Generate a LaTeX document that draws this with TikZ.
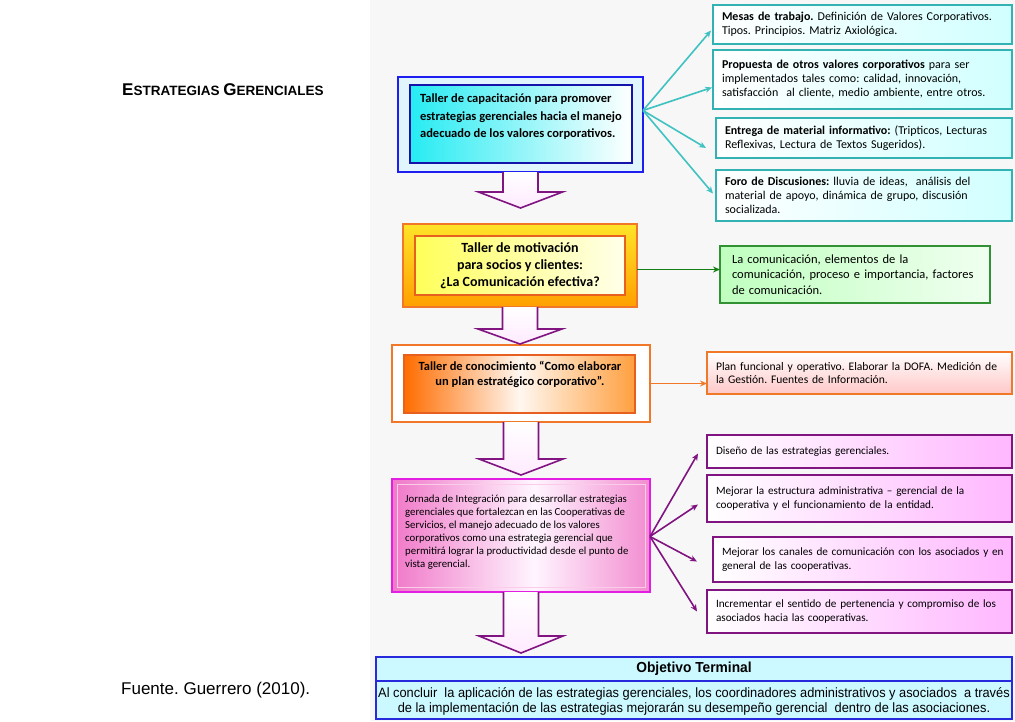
\documentclass[tikz,border=0pt]{standalone}
\usepackage{fontspec}
\setmainfont{Carlito}
\newfontfamily\arialf{Liberation Sans}
\newfontfamily\arialn{Liberation Sans}[FakeStretch=0.95]
\usetikzlibrary{arrows.meta,calc}
\frenchspacing
\definecolor{bgray}{RGB}{247,247,247}
\definecolor{tealc}{RGB}{64,194,194}
\definecolor{tealb}{RGB}{50,178,178}
\definecolor{blueo}{RGB}{30,30,240}
\definecolor{bluei}{RGB}{20,20,170}
\definecolor{cyanf}{RGB}{0,232,240}
\definecolor{oran}{RGB}{240,120,40}
\definecolor{oranr}{RGB}{232,96,32}
\definecolor{yel}{RGB}{255,228,40}
\definecolor{grn}{RGB}{20,128,20}
\definecolor{grnb}{RGB}{50,145,50}
\definecolor{mag}{RGB}{225,30,225}
\definecolor{purp}{RGB}{128,20,128}
\definecolor{pinkf}{RGB}{240,120,200}
\definecolor{objb}{RGB}{40,40,220}
\definecolor{objf}{RGB}{204,248,255}
\tikzset{
  corner/.style={anchor=north west, inner sep=0pt, outer sep=0pt},
  rbox/.style={anchor=north west, inner xsep=9pt, inner ysep=0pt, outer sep=0pt, align=left,
     font=\fontsize{12}{14}\selectfont},
  cybox/.style={rbox, draw=tealb, line width=1.6pt, left color=white, right color=cyan!18},
  grbox/.style={rbox, draw=grnb, line width=1.6pt, left color=green!25, right color=green!6},
  orbox/.style={rbox, draw=oran, line width=1.6pt, top color=white, bottom color=red!22},
  pubox/.style={rbox, draw=purp, line width=1.8pt, left color=white, right color=magenta!28,
     font=\fontsize{11.2}{14}\selectfont},
  barrowst/.style={draw=purp, line width=1.6pt, top color=white, bottom color=magenta!8, line join=miter},
  tarr/.style={draw=tealc, line width=1.6pt, -{Stealth[length=7pt,width=6pt]}},
  garr/.style={draw=grn, line width=1.6pt, -{Stealth[length=7pt,width=6pt]}},
  oarr/.style={draw=oran, line width=1.6pt, -{Stealth[length=7pt,width=6pt]}},
  parr/.style={draw=purp, line width=1.6pt, -{Stealth[length=7pt,width=6pt]}},
  btext/.style={inner sep=0pt, font=\bfseries\fontsize{12.5}{17.5}\selectfont},
  % three-stop horizontal gradient: #1 left, #2 middle, #3 right, #4 fraction of middle
  tri/.style n args={4}{path picture={
     \coordinate (ppnw) at (path picture bounding box.north west);
     \coordinate (ppse) at (path picture bounding box.south east);
     \coordinate (ppm) at ($(ppnw)!#4!(ppnw -| ppse)$);
     \shade[left color=#1, right color=#2] (ppnw) rectangle (ppm |- ppse);
     \shade[left color=#2, right color=#3] (ppm) rectangle (ppse);}}
}
\newcommand\blockarrow[3]{%
  \path[barrowst] ($(#1.south)+(-17.5,0)$) -- ($(#1.south)+(-17.5,#2)$) -- ($(#1.south)+(-42,#2)$)
    -- ($(#1.south)+(0,#3)$) -- ($(#1.south)+(42,#2)$) -- ($(#1.south)+(17.5,#2)$) -- ($(#1.south)+(17.5,0)$);}
\begin{document}
\begin{tikzpicture}[x=1pt,y=-1pt]
\useasboundingbox (0,0) rectangle (1015,721);
\fill[white] (0,0) rectangle (1015,721);
\fill[bgray] (370,0) rectangle (1015,721);

% title and source
\node[anchor=west, inner sep=0pt, font=\arialf\bfseries] (title) at (122,90)
  {\fontsize{17}{20}\selectfont E\fontsize{13.5}{16}\selectfont STRATEGIAS \fontsize{17}{20}\selectfont G\fontsize{13.5}{16}\selectfont ERENCIALES};
\node[anchor=west, inner sep=0pt, font=\arialf\fontsize{17}{20}\selectfont] (src) at (121,690) {Fuente. Guerrero (2010).};

% box 1
\node[corner, draw=blueo, line width=2pt, fill=cyan!12, minimum width=245pt, minimum height=95pt] (b1o) at (398,77) {};
\node[corner, draw=bluei, line width=2pt, left color=cyanf!85, right color=white, minimum width=222pt, minimum height=78pt] (b1i) at (410,85) {};
\node[btext, align=left] (t1) at (521,117) {Taller de capacitación para promover\\estrategias gerenciales hacia el manejo\\adecuado de los valores corporativos.};

% right cyan boxes
\node[cybox, minimum width=299pt, minimum height=39pt, text width=281pt] (r1) at (713,5)
  {\textbf{Mesas de trabajo.} Definición de Valores Corporativos.\\Tipos. Principios. Matriz Axiológica.};
\node[cybox, minimum width=299pt, minimum height=59pt, text width=281pt] (r2) at (713,50)
  {\textbf{Propuesta de otros valores corporativos} para ser\\implementados tales como: calidad, innovación,\\satisfacción\ \ al cliente, medio ambiente, entre otros.};
\node[cybox, minimum width=296pt, minimum height=40pt, text width=278pt] (r3) at (716,118)
  {\textbf{Entrega de material informativo:} (Tripticos, Lecturas\\Reflexivas, Lectura de Textos Sugeridos).};
\node[cybox, minimum width=296pt, minimum height=51pt, text width=278pt] (r4) at (716,170)
  {\textbf{Foro de Discusiones:} lluvia de ideas,\ \ análisis del\\material de apoyo, dinámica de grupo, discusión\\socializada.};
\coordinate (c1) at ($(b1o.east)+(0,-14)$);
\draw[tarr] (c1) -- ($(r1.west)+(-2,6)$);
\draw[tarr] (c1) -- ($(r2.west)+(-1,8)$);
\draw[tarr] (c1) -- ($(r3.west)+(-10,10)$);
\draw[tarr] (c1) -- ($(r4.west)+(-3,-2)$);

% box 2
\node[corner, draw=oran, line width=2pt, top color=yel, bottom color=orange!75!yellow, minimum width=234pt, minimum height=83pt] (b2o) at (403,224) {};
\node[corner, draw=oranr, line width=2pt, left color=yellow!65, right color=yellow!8, minimum width=210pt, minimum height=59pt] (b2i) at (415,236) {};
\node[btext, align=center, font=\bfseries\fontsize{14}{16.8}\selectfont] (t2) at (520,266) {Taller de motivación\\para socios y clientes:\\¿La Comunicación efectiva?};
\node[grbox, inner xsep=12pt, minimum width=270pt, minimum height=57pt, text width=246pt, font=\fontsize{12.5}{15.5}\selectfont] (g) at (720,246)
  {La comunicación, elementos de la\\comunicación, proceso e importancia, factores\\de comunicación.};
\coordinate (c2) at ($(b2o.east)+(0,4)$);
\draw[garr] (c2) -- (g.west |- c2);

% box 3
\node[corner, draw=oran, line width=2pt, fill=white, minimum width=258pt, minimum height=77pt] (b3o) at (392,345) {};
\node[corner, draw=oranr, line width=2pt, tri={orange!85!red}{orange!6}{orange!75}{0.5}, minimum width=231pt, minimum height=58pt] (b3i) at (404,355) {};
\node[btext, align=center, font=\bfseries\fontsize{12.5}{15}\selectfont] (t3) at (520,374) {Taller de conocimiento “Como elaborar\\un plan estratégico corporativo”.};
\node[orbox, minimum width=305pt, minimum height=42pt, text width=287pt, font=\fontsize{11.6}{13.5}\selectfont] (pl) at (707,352)
  {Plan funcional y operativo. Elaborar la DOFA. Medición de\\la Gestión. Fuentes de Información.};
\draw[oarr] (b3o.east) -- (pl.west |- b3o.east);

% box 4
\node[corner, draw=mag, line width=2pt, tri={pinkf}{magenta!4}{pinkf!85}{0.55}, minimum width=258pt, minimum height=113pt] (b4o) at (392,479) {};
\node[corner, draw=magenta!20, line width=0.8pt, minimum width=248pt, minimum height=103pt] (b4i) at (397,484) {};
\node[anchor=west, inner sep=0pt, align=left, font=\fontsize{10.8}{12.9}\selectfont] (t4) at (405,532)
  {Jornada de Integración para desarrollar estrategias\\gerenciales que fortalezcan en las Cooperativas de\\Servicios, el manejo adecuado de los valores\\corporativos como una estrategia gerencial que\\permitirá lograr la productividad desde el punto de\\vista gerencial.};

\node[pubox, minimum width=305pt, minimum height=33pt, text width=287pt] (p1) at (707,435) {Diseño de las estrategias gerenciales.};
\node[pubox, minimum width=305pt, minimum height=47pt, text width=287pt] (p2) at (707,475) {Mejorar la estructura administrativa – gerencial de la\\cooperativa y el funcionamiento de la entidad.};
\node[pubox, minimum width=299pt, minimum height=45pt, text width=281pt] (p3) at (713,537) {\mbox{Mejorar los canales de comunicación con los asociados y en}\\general de las cooperativas.};
\node[pubox, minimum width=305pt, minimum height=43pt, text width=287pt] (p4) at (707,590) {Incrementar el sentido de pertenencia y compromiso de los\\asociados hacia las cooperativas.};
\coordinate (c4) at ($(b4o.east)+(0,1)$);
\draw[parr] (c4) -- ($(p1.west)+(-9,2)$);
\draw[parr] (c4) -- ($(p2.west)+(-9,6)$);
\draw[parr] (c4) -- ($(p3.west)+(-16,2)$);
\draw[parr] (c4) -- ($(p4.west)+(-10,0)$);

% block arrows
\blockarrow{b1o}{20}{36}
\blockarrow{b2o}{22}{37}
\blockarrow{b3o}{37}{53}
\blockarrow{b4o}{44}{61}

% objective box
\node[corner, draw=objb, line width=1.5pt, fill=objf, minimum width=636pt, minimum height=24pt] (oh) at (376,657) {};
\node[font=\arialn\bfseries\fontsize{14.5}{16}\selectfont, inner sep=0pt] (oht) at (oh.center) {Objetivo Terminal};
\node[corner, draw=objb, line width=1.5pt, fill=objf, minimum width=636pt, minimum height=38pt, anchor=north] (ob) at (oh.south) {};
\node[font=\arialn\fontsize{13.5}{15}\selectfont, inner sep=0pt, align=center] (obt) at ($(ob.center)+(0,1)$)
  {Al concluir\ \ la aplicación de las estrategias gerenciales, los coordinadores administrativos y asociados\ \ a través\\de la implementación de las estrategias mejorarán su desempeño gerencial\ \ dentro de las asociaciones.};
\end{tikzpicture}
\end{document}
